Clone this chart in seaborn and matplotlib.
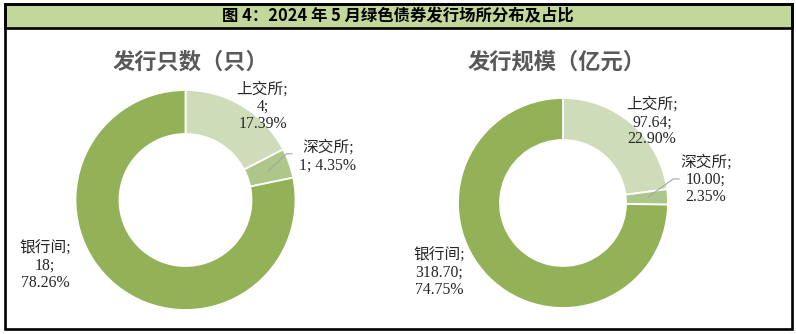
import matplotlib
matplotlib.use("Agg")
import matplotlib.pyplot as plt
from matplotlib.patches import Rectangle
import seaborn as sns

sns.set_theme(style="white")
plt.rcParams["font.family"] = ["Liberation Serif", "Noto Sans CJK SC"]

# Data
venues = ["上交所", "深交所", "银行间"]
count_values = [4, 1, 18]
count_shares = ["17.39%", "4.35%", "78.26%"]
scale_values = [97.64, 10.00, 318.70]
scale_shares = ["22.90%", "2.35%", "74.75%"]
header_text = "图 4：2024 年 5 月绿色债券发行场所分布及占比"
left_title = "发行只数（只）"
right_title = "发行规模（亿元）"

colors = ["#cfdcb9", "#adc68a", "#93b257"]
W, H = 796, 334

fig = plt.figure(figsize=(W / 100, H / 100), dpi=100)
fig.patch.set_facecolor("white")

# Frame and header band drawn on a pixel-space overlay
bg = fig.add_axes([0, 0, 1, 1])
bg.set_xlim(0, W)
bg.set_ylim(H, 0)
bg.axis("off")
bg.add_patch(Rectangle((5, 4), 787, 24, facecolor="#c4d79b", edgecolor="black", lw=1.9))
bg.add_patch(Rectangle((5, 4), 787, 325, facecolor="none", edgecolor="black", lw=1.9))
bg.text(398, 16, header_text, ha="center", va="center", fontsize=11.8, fontweight="bold",
        family=["Noto Sans CJK SC"], color="black")


def donut(cx, cy, r, values, labels_txt, label_pos, leader, title, title_xy):
    ax = fig.add_axes([(cx - r) / W, (H - cy - r) / H, 2 * r / W, 2 * r / H])
    ax.pie(values, colors=colors, startangle=90, counterclock=False, radius=1,
           wedgeprops=dict(width=0.4, edgecolor="white", linewidth=1.3))
    ax.set_xlim(-1, 1)
    ax.set_ylim(-1, 1)
    ax.set_aspect("auto")
    ax.axis("off")
    for txt, (x, y) in zip(labels_txt, label_pos):
        ax.text(x, y, txt, ha="center", va="center", fontsize=11.3, color="#262626",
                linespacing=1.1, clip_on=False)
    xs, ys = zip(*leader)
    ax.plot(xs, ys, color="#a6a6a6", lw=0.8, clip_on=False)
    bg.text(title_xy[0], title_xy[1], title, ha="center", va="center", fontsize=16,
            fontweight="bold", color="#595959", family=["Noto Sans CJK SC"])
    return ax


left_labels = [
    f"{venues[0]};\n{count_values[0]};\n{count_shares[0]}",
    f"{venues[1]};\n{count_values[1]}; {count_shares[1]}",
    f"{venues[2]};\n{count_values[2]};\n{count_shares[2]}",
]
donut(185.5, 200, 110, count_values, left_labels,
      [(0.70, 0.845), (1.295, 0.395), (-1.277, -0.6)],
      [(0.75, 0.264), (0.92, 0.42), (0.97, 0.42)],
      left_title, (190, 62))

right_labels = [
    f"{venues[0]};\n{scale_values[0]:.2f};\n{scale_shares[0]}",
    f"{venues[1]};\n{scale_values[1]:.2f};\n{scale_shares[1]}",
    f"{venues[2]};\n{scale_values[2]:.2f};\n{scale_shares[2]}",
]
donut(563, 203, 105, scale_values, right_labels,
      [(0.848, 0.77), (1.362, 0.219), (-1.18, -0.667)],
      [(0.81, 0.057), (1.05, 0.229), (1.11, 0.229)],
      right_title, (557, 62))

fig.savefig("out.png", dpi=100, facecolor="white")
